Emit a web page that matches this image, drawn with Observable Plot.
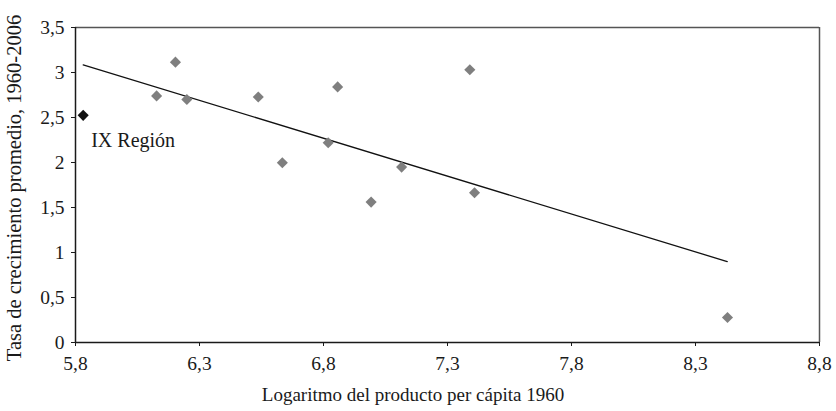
<!DOCTYPE html>
<html>
<head>
<meta charset="utf-8">
<script src="https://cdn.jsdelivr.net/npm/d3@7"></script>
<script src="https://cdn.jsdelivr.net/npm/@observablehq/plot@0.6"></script>
<style>
  html, body { margin: 0; padding: 0; background: #fff; }
  #chart svg { display: block; }
</style>
</head>
<body>
<div id="chart"></div>
<script>
// Regions: log GDP per capita 1960 (x) and average growth 1960-2006 (y)
const logProducto = [6.127, 6.203, 6.249, 6.537, 6.634, 6.819, 6.857, 6.992, 7.115, 7.39, 7.409, 8.429];
const tasaCrecimiento = [2.74, 3.115, 2.70, 2.728, 1.998, 2.22, 2.84, 1.56, 1.949, 3.03, 1.664, 0.278];

// Highlighted region
const regionNombre = "IX Región";
const regionX = 5.831;
const regionY = 2.524;

// Trend line end points
const tendenciaX = [5.831, 8.428];
const tendenciaY = [3.085, 0.899];

// Tick labels
const xTicks = [5.8, 6.3, 6.8, 7.3, 7.8, 8.3, 8.8];
const yTicks = [0, 0.5, 1, 1.5, 2, 2.5, 3, 3.5];

const xTitle = "Logaritmo del producto per cápita 1960";
const yTitle = "Tasa de crecimiento promedio, 1960-2006";

const puntos = logProducto.map((x, i) => ({x, y: tasaCrecimiento[i]}));
const region = [{x: regionX, y: regionY, label: regionNombre}];
const tendencia = tendenciaX.map((x, i) => ({x, y: tendenciaY[i]}));

const fmt = d => String(d).replace(".", ",");
const SERIF = "'Liberation Serif', 'Times New Roman', Times, 'DejaVu Serif', serif";

const W = 836, H = 411;
const mL = 75, mT = 27, mR = 17, mB = 69;

const plot = Plot.plot({
  width: W,
  height: H,
  marginLeft: mL,
  marginTop: mT,
  marginRight: mR,
  marginBottom: mB,
  style: {fontFamily: SERIF, fontSize: "19.5px", color: "#1a1a1a", background: "#fff"},
  x: {domain: [5.8, 8.8], ticks: xTicks, tickFormat: fmt, label: null, tickSize: 4, tickPadding: 10},
  y: {domain: [0, 3.5], ticks: yTicks, tickFormat: fmt, label: null, tickSize: 4, tickPadding: 7},
  marks: [
    Plot.ruleY([3.5], {stroke: "#555", strokeWidth: 1.5}),
    Plot.ruleX([8.8], {stroke: "#555", strokeWidth: 1.5}),
    Plot.ruleX([5.8], {stroke: "#1a1a1a", strokeWidth: 1.5}),
    Plot.ruleY([0], {stroke: "#1a1a1a", strokeWidth: 1.5}),
    Plot.line(tendencia, {x: "x", y: "y", stroke: "#111", strokeWidth: 1.3}),
    Plot.dot(puntos, {x: "x", y: "y", symbol: "diamond2", r: 5, fill: "#7f7f7f", stroke: "none"}),
    Plot.dot(region, {x: "x", y: "y", symbol: "diamond2", r: 5, fill: "#111", stroke: "none"}),
    Plot.text(region, {x: "x", y: "y", text: "label", dx: 8, dy: 25, textAnchor: "start", lineAnchor: "middle", fontSize: 20, fill: "#1a1a1a"})
  ]
});

document.getElementById("chart").appendChild(plot);

const svg = d3.select(plot);
svg.selectAll("text").style("font-family", SERIF);
svg.selectAll("g[aria-label='x-axis tick label'] text, g[aria-label='y-axis tick label'] text")
  .style("font-size", "19.5px");
svg.append("text")
  .attr("x", 413)
  .attr("y", 401)
  .attr("text-anchor", "middle")
  .attr("fill", "#1a1a1a")
  .style("font-family", SERIF)
  .style("font-size", "19px")
  .text(xTitle);
svg.append("text")
  .attr("transform", `translate(21, ${188}) rotate(-90)`)
  .attr("text-anchor", "middle")
  .attr("fill", "#1a1a1a")
  .style("font-family", SERIF)
  .style("font-size", "20.5px")
  .text(yTitle);
</script>
</body>
</html>
